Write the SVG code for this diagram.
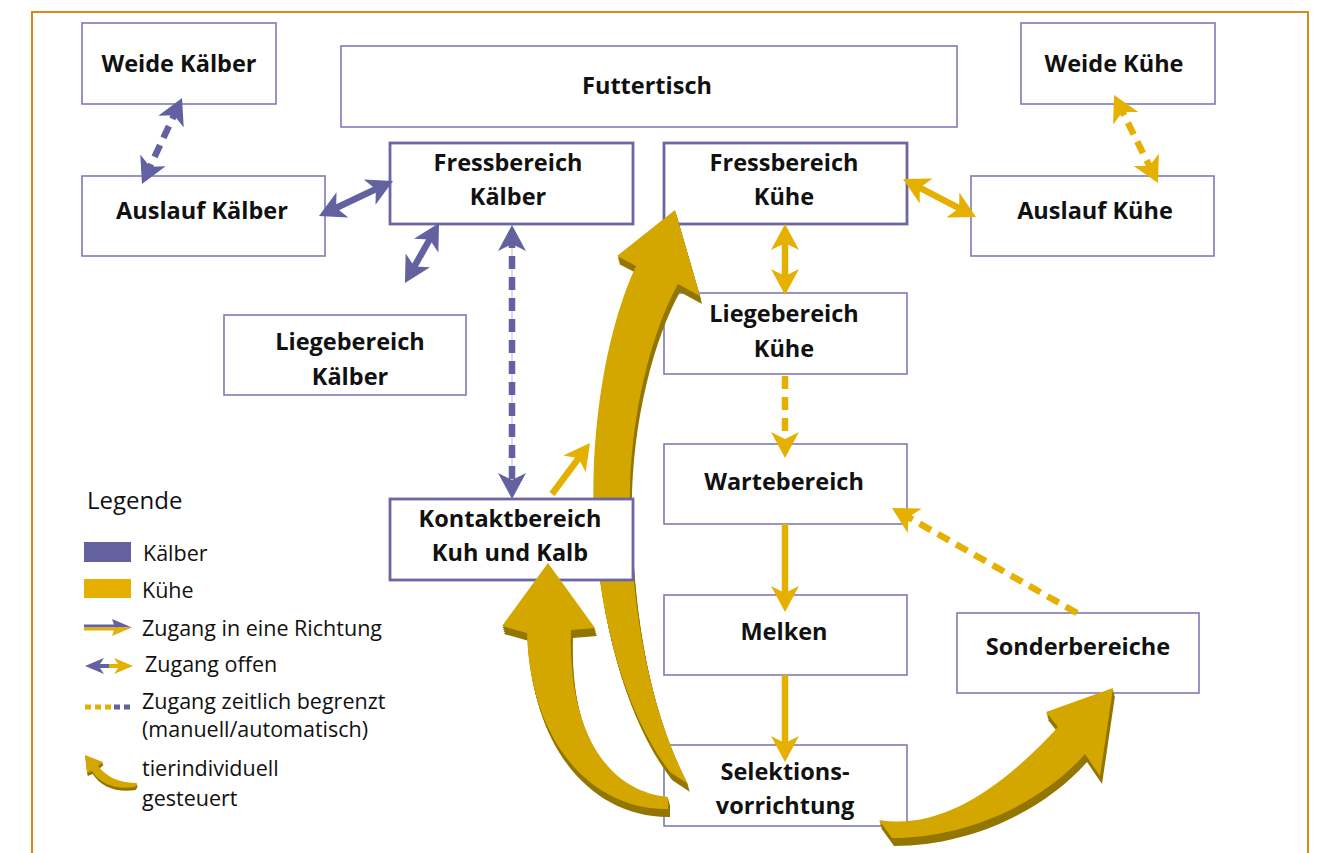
<svg xmlns="http://www.w3.org/2000/svg" xmlns:xlink="http://www.w3.org/1999/xlink" width="1319" height="853" viewBox="0 0 1319 853">
<style>
.box{fill:#fff;stroke:#7d7ab8;stroke-width:1.6}
.boxb{fill:#fff;stroke:#6a66a8;stroke-width:2.8}
.t{font-family:"Open Sans","Liberation Sans",sans-serif;font-weight:700;font-size:23.5px;fill:#111;text-anchor:middle}
.lg{font-family:"Open Sans","Liberation Sans",sans-serif;font-size:21.5px;fill:#111}
.pu{fill:none;stroke:#6461a1;stroke-width:6.5}
.go{fill:none;stroke:#e5b000;stroke-width:6.5}
.dash{stroke-dasharray:13 8}
.big{fill:#d4a600}
.bigd{fill:#937600}
</style>
<defs>
<marker id="hp" viewBox="0 0 26 28" refX="16" refY="14" markerWidth="26" markerHeight="28" markerUnits="userSpaceOnUse" orient="auto-start-reverse"><path d="M0,0 L26,14 L0,28 L7,14 Z" fill="#6461a1"/></marker>
<marker id="hg" viewBox="0 0 26 28" refX="16" refY="14" markerWidth="26" markerHeight="28" markerUnits="userSpaceOnUse" orient="auto-start-reverse"><path d="M0,0 L26,14 L0,28 L7,14 Z" fill="#e5b000"/></marker>
<path id="a1" d="M675 210 L700 296 L678 284 C652 330 628 420 630 510 C632 640 660 730 688 784 L670 772 C630 720 600 630 594 520 C590 430 606 330 636 266 L617 256 Z"/>
<path id="a2" d="M548 563 L595 628 L571 630 C568 720 600 790 668 797 L668 809 C590 810 530 740 527 633 L502 626 Z"/>
<path id="a3" d="M1113 688 L1100 776 L1085 754 C1040 805 965 838 892 838 L879 820 C940 830 1000 790 1058 727 L1046 712 Z"/>
<path id="a4" d="M85 755 L103 762 L98 766 C108 778 120 783 137 783 L135 787 C116 790 100 784 92 771 L87 773 Z"/>
</defs>

<path d="M32 853 L32 12 L1308 12 L1308 853" fill="none" stroke="#d48a1e" stroke-width="2"/>

<g id="weide-kaelber"><rect class="box" x="82" y="23" width="194" height="81"/><text class="t" x="179" y="72">Weide Kälber</text></g>
<g id="futtertisch"><rect class="box" x="341" y="46" width="616" height="81"/><text class="t" x="647" y="94">Futtertisch</text></g>
<g id="weide-kuehe"><rect class="box" x="1021" y="23" width="194" height="81"/><text class="t" x="1114" y="72">Weide Kühe</text></g>
<g id="fressbereich-kaelber"><rect class="boxb" x="390" y="143" width="243" height="81"/><text class="t" x="508" y="171">Fressbereich</text><text class="t" x="508" y="205">Kälber</text></g>
<g id="fressbereich-kuehe"><rect class="boxb" x="664" y="143" width="243" height="81"/><text class="t" x="784" y="171">Fressbereich</text><text class="t" x="784" y="205">Kühe</text></g>
<g id="auslauf-kaelber"><rect class="box" x="82" y="176" width="243" height="80"/><text class="t" x="202" y="219">Auslauf Kälber</text></g>
<g id="auslauf-kuehe"><rect class="box" x="971" y="176" width="243" height="80"/><text class="t" x="1095" y="219">Auslauf Kühe</text></g>
<g id="liegebereich-kuehe"><rect class="box" x="664" y="293" width="243" height="81"/><text class="t" x="784" y="322">Liegebereich</text><text class="t" x="784" y="357">Kühe</text></g>
<g id="liegebereich-kaelber"><rect class="box" x="224" y="315" width="242" height="80"/><text class="t" x="350" y="350">Liegebereich</text><text class="t" x="350" y="385">Kälber</text></g>
<g id="wartebereich"><rect class="box" x="664" y="444" width="243" height="80"/><text class="t" x="784" y="490">Wartebereich</text></g>
<g id="melken"><rect class="box" x="664" y="595" width="243" height="80"/><text class="t" x="784" y="640">Melken</text></g>
<g id="sonderbereiche"><rect class="box" x="957" y="613" width="242" height="80"/><text class="t" x="1078" y="655">Sonderbereiche</text></g>
<g id="selektionsvorrichtung"><rect class="box" x="664" y="745" width="243" height="81"/><text class="t" x="785" y="780">Selektions-</text><text class="t" x="785" y="814">vorrichtung</text></g>

<g id="connectors-back">
<g class="bigd"><use xlink:href="#a1" x="0.5" y="2"/><use xlink:href="#a1" x="1" y="4"/><use xlink:href="#a1" x="1.5" y="6"/><use xlink:href="#a1" x="2" y="8"/></g>
<use xlink:href="#a1" class="big"/>
</g>

<g id="kontaktbereich"><rect class="boxb" x="390" y="499" width="243" height="81"/><text class="t" x="510" y="527">Kontaktbereich</text><text class="t" x="510" y="561">Kuh und Kalb</text></g>

<g id="connectors">
<line class="pu dash" x1="177.8" y1="107.1" x2="146.2" y2="174.9" marker-start="url(#hp)" marker-end="url(#hp)"/>
<line class="pu" x1="328" y1="211.7" x2="384" y2="185.3" marker-start="url(#hp)" marker-end="url(#hp)"/>
<line class="pu" x1="434.1" y1="231.7" x2="409.9" y2="274.3" marker-start="url(#hp)" marker-end="url(#hp)"/>
<line x1="512" y1="235" x2="512" y2="489" stroke="#d3d2e8" stroke-width="1.5"/>
<line class="pu dash" x1="512" y1="235" x2="512" y2="489" marker-start="url(#hp)" marker-end="url(#hp)"/>
<line class="go" x1="552" y1="494" x2="584" y2="451" stroke-width="5.5" marker-end="url(#hg)"/>
<line class="go" x1="785" y1="234" x2="785" y2="285" marker-start="url(#hg)" marker-end="url(#hg)"/>
<line class="go dash" x1="785" y1="376" x2="785" y2="448" marker-end="url(#hg)"/>
<line class="go" x1="785" y1="524" x2="785" y2="602" marker-end="url(#hg)"/>
<line class="go" x1="785" y1="675" x2="785" y2="752" marker-end="url(#hg)"/>
<line class="go dash" x1="1077" y1="613" x2="900.7" y2="512.9" marker-end="url(#hg)"/>
<line class="go" x1="911.9" y1="183.6" x2="967.1" y2="212.4" marker-start="url(#hg)" marker-end="url(#hg)"/>
<line class="go dash" x1="1118.5" y1="103.9" x2="1153.5" y2="174.1" marker-start="url(#hg)" marker-end="url(#hg)"/>

<g class="bigd">
<use xlink:href="#a2" x="0.5" y="2"/><use xlink:href="#a2" x="1" y="4"/><use xlink:href="#a2" x="1.5" y="6"/><use xlink:href="#a2" x="2" y="8"/>
<use xlink:href="#a3" x="0.5" y="2"/><use xlink:href="#a3" x="1" y="4"/><use xlink:href="#a3" x="1.5" y="6"/><use xlink:href="#a3" x="2" y="8"/>
</g>
<g class="big"><use xlink:href="#a2"/><use xlink:href="#a3"/></g>
</g>

<g id="legende">
<text class="lg" x="87" y="509" style="font-size:24px">Legende</text>
<rect x="84" y="542" width="47" height="20" fill="#6461a1"/>
<text class="lg" x="143" y="561">Kälber</text>
<rect x="84" y="579" width="47" height="19" fill="#e5b000"/>
<text class="lg" x="142" y="598">Kühe</text>
<line x1="84" y1="626" x2="118" y2="626" stroke="#6461a1" stroke-width="3"/>
<line x1="84" y1="629" x2="118" y2="629" stroke="#e5b000" stroke-width="3"/>
<path d="M112 619 L132 627.5 L115 627.5 Z" fill="#6461a1"/>
<path d="M115 627.5 L132 627.5 L112 636 Z" fill="#e5b000"/>
<text class="lg" x="142" y="636">Zugang in eine Richtung</text>
<path d="M85 666 L104 658 L100 664 L110 664 L110 668 L100 668 L104 674 Z" fill="#6461a1"/>
<path d="M133 666 L114 658 L118 664 L109 664 L109 668 L118 668 L114 674 Z" fill="#e5b000"/>
<text class="lg" x="145" y="672">Zugang offen</text>
<line x1="85" y1="707" x2="112" y2="707" stroke="#e5b000" stroke-width="5" stroke-dasharray="6 4"/>
<line x1="114" y1="707" x2="132" y2="707" stroke="#6461a1" stroke-width="5" stroke-dasharray="6 4"/>
<text class="lg" x="142" y="709">Zugang zeitlich begrenzt</text>
<text class="lg" x="142" y="737">(manuell/automatisch)</text>
<use xlink:href="#a4" x="0.4" y="1.5" class="bigd"/><use xlink:href="#a4" x="0.8" y="3" class="bigd"/>
<use xlink:href="#a4" class="big"/>
<text class="lg" x="142" y="776">tierindividuell</text>
<text class="lg" x="142" y="806">gesteuert</text>
</g>
</svg>
